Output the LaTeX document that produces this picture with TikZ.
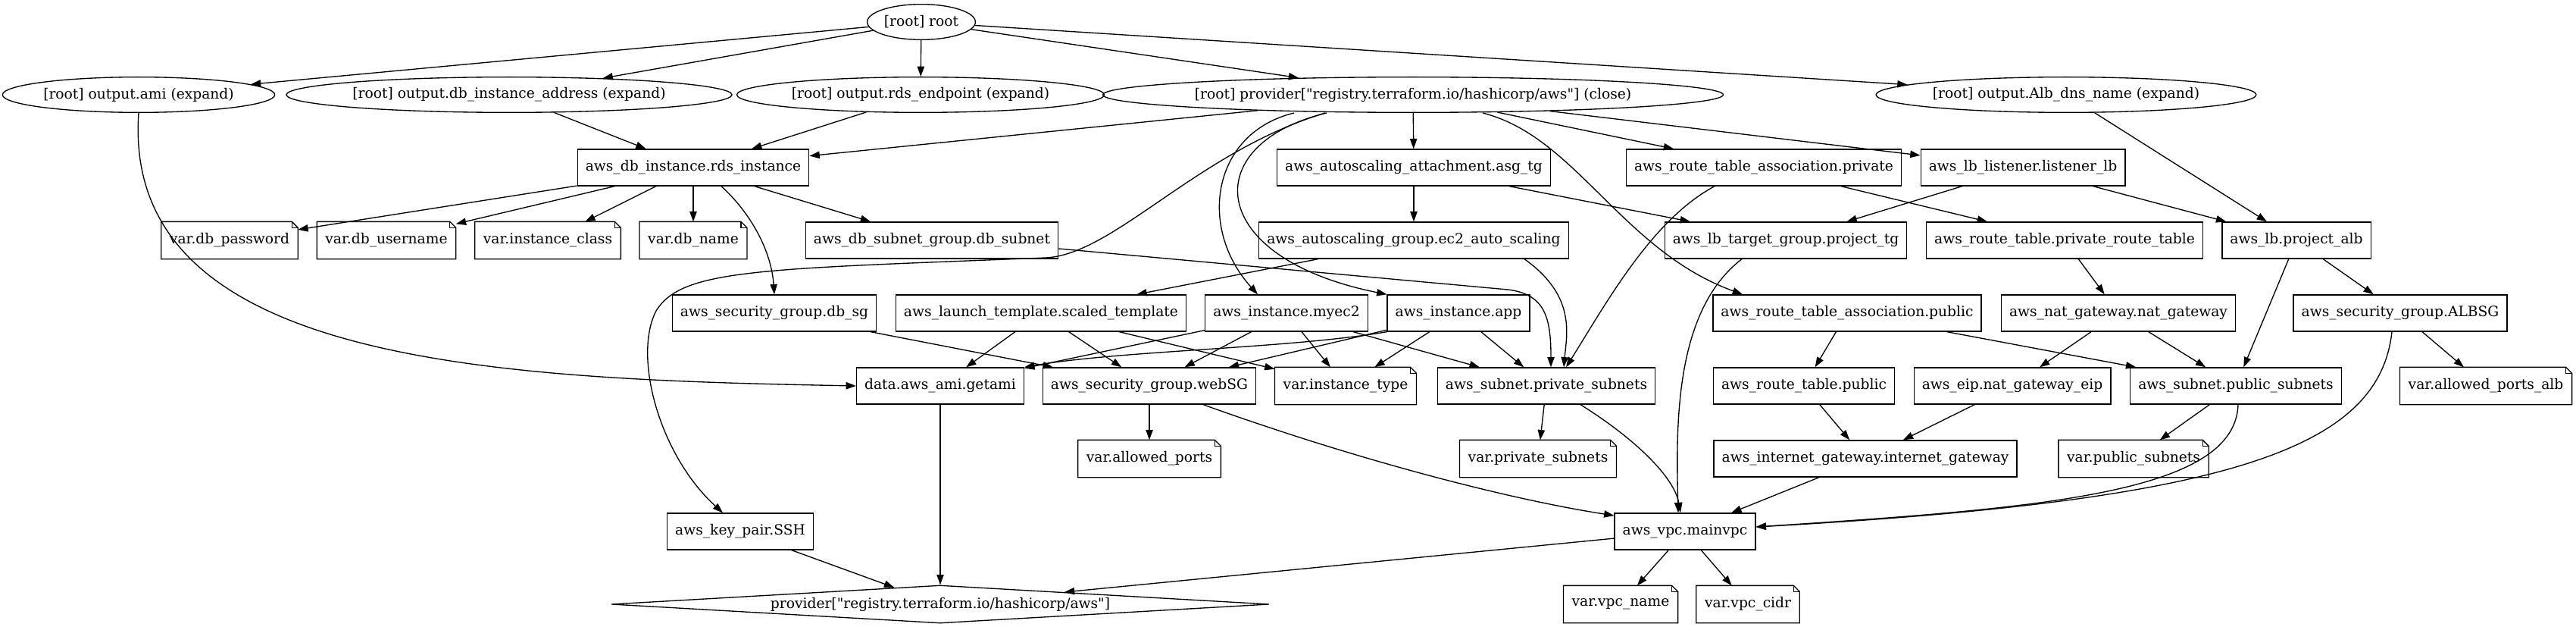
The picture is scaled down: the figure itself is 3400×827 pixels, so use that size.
\documentclass[tikz,border=0pt]{standalone}
\usepackage{fontspec}
\setmainfont{DejaVu Serif}
\usepackage{tikz}
\usetikzlibrary{positioning}
\usetikzlibrary{calc}
\usetikzlibrary{shapes.geometric}
\usetikzlibrary{arrows.meta}

\begin{document}
\begin{tikzpicture}[x=0.75pt,y=-0.75pt
  ,gvbase/.style={line width=1pt,font=\fontsize{14}{17}\selectfont}
  ,res/.style={gvbase,draw,rectangle,inner xsep=7.92pt,inner ysep=3pt,minimum height=36pt,minimum width=54pt}
  ,varnote/.style={res,draw=none}
  ,rootell/.style={gvbase,draw,ellipse,inner xsep=1pt,inner ysep=2pt,minimum height=35pt}
  ,provdia/.style={gvbase,draw,diamond,aspect=17,inner sep=0pt,minimum width=651pt,minimum height=37.5pt}
  ,dep/.style={line width=1pt,-{Stealth[inset=0pt,length=10pt,width=7pt]}}
  ]
\useasboundingbox (0,0) rectangle (3400,827);

% rank 0 and 1
\node[rootell] (root) at (1216,29) {[root] root};
\node[rootell] (oami) at (183,125) {[root] output.ami (expand)};
\node[rootell] (odbaddr) at (672,125) {[root] output.db\_instance\_address (expand)};
\node[rootell] (ords) at (1215,125) {[root] output.rds\_endpoint (expand)};
\node[rootell] (pclose) at (1865,125) {[root] provider[\textquotedbl registry.terraform.io/hashicorp/aws\textquotedbl] (close)};
\node[rootell] (oalb) at (2727,125) {[root] output.Alb\_dns\_name (expand)};

% rank 2
\node[res] (rds) at (915,221) {aws\_db\_instance.rds\_instance};
\node[res] (asgatt) at (1866,221) {aws\_autoscaling\_attachment.asg\_tg};
\node[res] (rtapriv) at (2328,221) {aws\_route\_table\_association.private};
\node[res] (listener) at (2670,221) {aws\_lb\_listener.listener\_lb};

% rank 3
\node[varnote] (vdbpass) at (303,317) {var.db\_password};
\node[varnote] (vdbuser) at (510,317) {var.db\_username};
\node[varnote] (vinstclass) at (723,317) {var.instance\_class};
\node[varnote] (vdbname) at (915,317) {var.db\_name};
\node[res] (dbsubnet) at (1230,317) {aws\_db\_subnet\_group.db\_subnet};
\node[res] (asggroup) at (1866,317) {aws\_autoscaling\_group.ec2\_auto\_scaling};
\node[res] (tg) at (2357,317) {aws\_lb\_target\_group.project\_tg};
\node[res] (privrt) at (2725,317) {aws\_route\_table.private\_route\_table};
\node[res] (alb) at (3031,317) {aws\_lb.project\_alb};

% rank 4
\node[res] (dbsg) at (1022,413) {aws\_security\_group.db\_sg};
\node[res] (launch) at (1374,413) {aws\_launch\_template.scaled\_template};
\node[res] (myec2) at (1698,413) {aws\_instance.myec2};
\node[res] (app) at (1925,413) {aws\_instance.app};
\node[res] (rtapub) at (2438,413) {aws\_route\_table\_association.public};
\node[res] (nat) at (2796,413) {aws\_nat\_gateway.nat\_gateway};
\node[res] (albsg) at (3168,413) {aws\_security\_group.ALBSG};

% rank 5
\node[res] (getami) at (1241,509) {data.aws\_ami.getami};
\node[res] (websg) at (1517,509) {aws\_security\_group.webSG};
\node[varnote] (vinsttype) at (1776,509) {var.instance\_type};
\node[res] (privsub) at (2041,509) {aws\_subnet.private\_subnets};
\node[res] (rtpublic) at (2381,509) {aws\_route\_table.public};
\node[res] (eip) at (2656,509) {aws\_eip.nat\_gateway\_eip};
\node[res] (pubsub) at (2951,509) {aws\_subnet.public\_subnets};
\node[varnote] (vportsalb) at (3281,509) {var.allowed\_ports\_alb};

% rank 6
\node[varnote] (vports) at (1517,605) {var.allowed\_ports};
\node[varnote] (vprivsub) at (2030,605) {var.private\_subnets};
\node[res] (igw) at (2462,605) {aws\_internet\_gateway.internet\_gateway};
\node[varnote] (vpubsub) at (2816,605) {var.public\_subnets};

% rank 7 and 8
\node[res] (keypair) at (977,701) {aws\_key\_pair.SSH};
\node[res] (vpc) at (2224,701) {aws\_vpc.mainvpc};
\node[provdia] (provider) at (1241,797) {provider[\textquotedbl registry.terraform.io/hashicorp/aws\textquotedbl]};
\node[varnote] (vvpcname) at (2139,797) {var.vpc\_name};
\node[varnote] (vvpccidr) at (2307,797) {var.vpc\_cidr};

% note outlines
\foreach \v in {vdbpass,vdbuser,vinstclass,vdbname,vinsttype,vportsalb,vports,vprivsub,vpubsub,vvpcname,vvpccidr}{
  \draw[line width=1pt] (\v.south west) -- (\v.north west) -- ($(\v.north east)+(-8,0)$) -- ($(\v.north east)+(0,8)$) -- (\v.south east) -- cycle;
  \draw[line width=1pt] ($(\v.north east)+(-8,0)$) -- ($(\v.north east)+(-8,8)$) -- ($(\v.north east)+(0,8)$);
}

\draw[dep] (root) -- (oami);
\draw[dep] (root) -- (odbaddr);
\draw[dep] (root) -- (ords);
\draw[dep] (root) -- (pclose);
\draw[dep] (root) -- (oalb);

\draw[dep] (oami.south) .. controls (160,480) and (650,500) .. (getami.west);
\draw[dep] (odbaddr) -- (rds);
\draw[dep] (ords) -- (rds);
\draw[dep] (oalb) -- (alb);

\draw[dep] (pclose) -- (rds);
\draw[dep] (pclose) -- (asgatt);
\draw[dep] (pclose) -- (rtapriv);
\draw[dep] (pclose) -- (listener);
\draw[dep] ($(pclose.south)+(-157,0)$) .. controls (1600,175) and (1580,300) .. ($(myec2.north)+(-38,0)$);
\draw[dep] ($(pclose.south)+(-114,0)$) .. controls (1580,190) and (1590,340) .. (app.north west);
\draw[dep] ($(pclose.south)+(92,0)$) .. controls (2080,180) and (2140,330) .. ($(rtapub.north)+(-138,0)$);
\draw[dep] ($(pclose.south)+(-116,0)$) .. controls (1580,200) and (1470,336) .. (1380,340)
  .. controls (1000,355) and (900,355) .. (866,410)
  .. controls (835,470) and (870,600) .. ($(keypair.north)+(-23,0)$);

\draw[dep] (rds) -- (vdbpass);
\draw[dep] (rds) -- (vdbuser);
\draw[dep] (rds) -- (vinstclass);
\draw[dep] (rds) -- (vdbname);
\draw[dep] (rds) -- (dbsubnet);
\draw[dep] ($(rds.south)+(37,0)$) .. controls (990,280) and (1018,330) .. (dbsg.north);

\draw[dep] (asgatt) -- (asggroup);
\draw[dep] (asgatt) -- (tg);
\draw[dep] (asggroup) -- (launch);
\draw[dep] ($(asggroup.south)+(146,0)$) .. controls (2080,390) and (2068,440) .. ($(privsub.north)+(23,0)$);
\draw[dep] ($(dbsubnet.east)+(0,11)$) -- (1990,382) .. controls (2040,388) and (2047,420) .. ($(privsub.north)+(6,0)$);
\draw[dep] ($(rtapriv.south)+(-65,0)$) .. controls (2180,290) and (2120,400) .. ($(privsub.north)+(26,0)$);
\draw[dep] (rtapriv) -- (privrt);
\draw[dep] (listener) -- (tg);
\draw[dep] (listener) -- (alb);
\draw[dep] ($(tg.south)+(-58,0)$) .. controls (2210,410) and (2212,560) .. ($(vpc.north)+(-9,0)$);
\draw[dep] (privrt) -- (nat);
\draw[dep] (alb) -- (albsg);
\draw[dep] (alb) -- (pubsub);

\draw[dep] (dbsg) -- (websg);
\draw[dep] (launch) -- (getami);
\draw[dep] (launch) -- (websg);
\draw[dep] (launch) -- (vinsttype);
\draw[dep] (myec2) -- (getami);
\draw[dep] (myec2) -- (websg);
\draw[dep] (myec2) -- (vinsttype);
\draw[dep] (myec2) -- (privsub);
\draw[dep] (app.south west) .. controls (1700,460) and (1480,462) .. (getami.north east);
\draw[dep] (app) -- (websg);
\draw[dep] (app) -- (vinsttype);
\draw[dep] (app) -- (privsub);
\draw[dep] (rtapub) -- (rtpublic);
\draw[dep] (rtapub) -- (pubsub);
\draw[dep] (nat) -- (eip);
\draw[dep] (nat) -- (pubsub);
\draw[dep] (albsg) -- (vportsalb);
\draw[dep] ($(albsg.south)+(-11,0)$) .. controls (3140,590) and (2950,660) .. ($(vpc.east)+(0,-6)$);

\draw[dep] (getami) -- (provider);
\draw[dep] (websg) -- (vports);
\draw[dep] ($(websg.south)+(71,0)$) .. controls (1800,610) and (2000,660) .. ($(vpc.west)+(0,-21)$);
\draw[dep] (privsub) -- (vprivsub);
\draw[dep] ($(privsub.south)+(45,0)$) .. controls (2160,580) and (2210,630) .. ($(vpc.north)+(-6,0)$);
\draw[dep] (rtpublic) -- (igw);
\draw[dep] (eip) -- (igw);
\draw[dep] (pubsub) -- (vpubsub);
\draw[dep] ($(pubsub.south)+(3,0)$) .. controls (2950,650) and (2700,670) .. ($(vpc.east)+(0,-6)$);
\draw[dep] (igw) -- (vpc);

\draw[dep] (keypair) -- (provider);
\draw[dep] (vpc) -- (provider);
\draw[dep] (vpc) -- (vvpcname);
\draw[dep] (vpc) -- (vvpccidr);
\end{tikzpicture}
\end{document}
